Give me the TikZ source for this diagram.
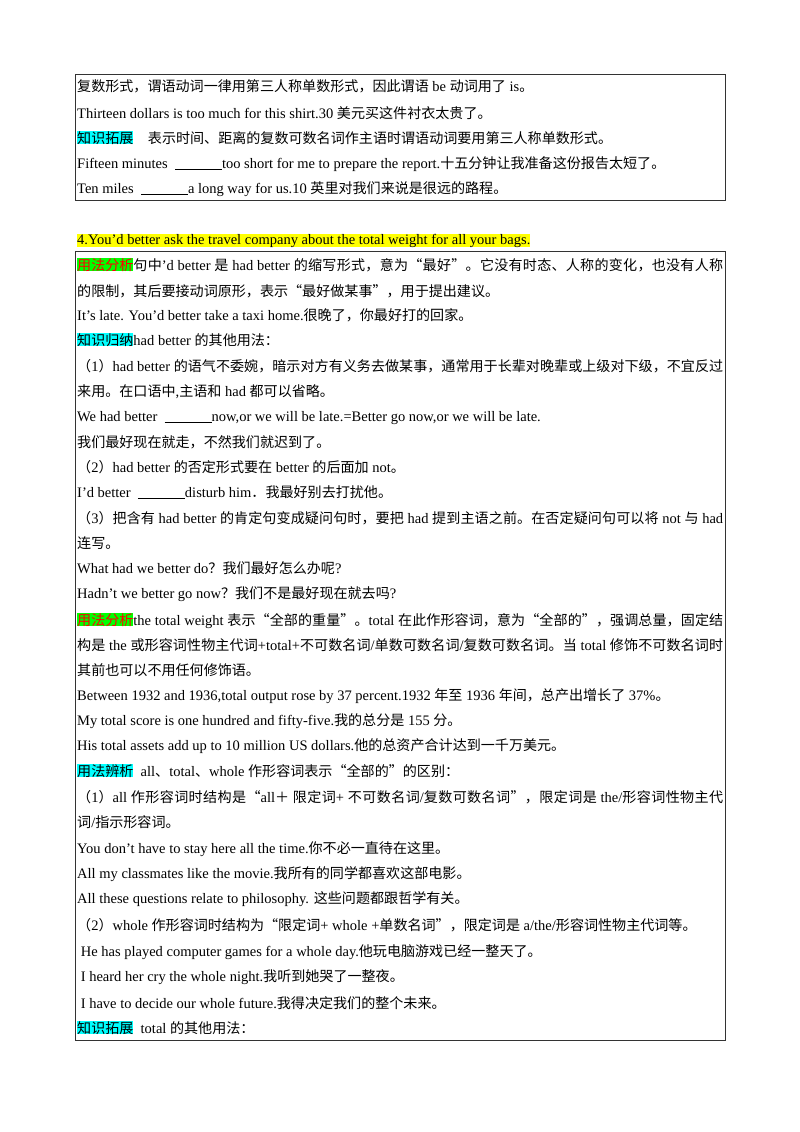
\documentclass[tikz,border=0pt]{standalone}
\usepackage{fontspec}
\setmainfont{Liberation Serif}
\newfontfamily\cjkf{Noto Sans CJK SC}[Scale=0.97]
\newfontfamily\latf{Liberation Serif}
\newXeTeXintercharclass\cjkc
\newcount\cc
\def\setrange#1#2{\cc=#1\relax\loop\XeTeXcharclass\cc=\cjkc\advance\cc by 1\relax\ifnum\cc<#2\repeat}
\setrange{"4E00}{"9FFF}
\setrange{"3000}{"3040}
\setrange{"FF00}{"FFF0}
\XeTeXcharclass"201C=\cjkc
\XeTeXcharclass"201D=\cjkc
\XeTeXinterchartoks 0 \cjkc {\cjkf}
\XeTeXinterchartoks 4095 \cjkc {\cjkf}
\XeTeXinterchartoks \cjkc 0 {\latf}
\XeTeXinterchartoks \cjkc 4095 {\latf}
\XeTeXinterchartoks \cjkc \cjkc {\hskip 0pt plus 3pt minus 0.5pt}
\XeTeXinterchartokenstate=1
\definecolor{hgreen}{RGB}{0,255,0}
\definecolor{hcyan}{RGB}{0,255,255}
\definecolor{hyellow}{RGB}{255,255,0}
\definecolor{hred}{RGB}{255,0,0}
\newcommand{\hlg}[1]{{\fboxsep=0pt\colorbox{hgreen}{\textcolor{hred}{#1}}}}
\newcommand{\hlc}[1]{{\fboxsep=0pt\colorbox{hcyan}{#1}}}
\newcommand{\bl}{\underline{\hspace{47pt}}}
\newcommand{\Ln}[2]{\node[ln] at (77,#1+5) {#2};}
\newcommand{\Fl}[2]{\node[ln] at (77,#1+5) {\makebox[646pt][s]{#2}};}
\begin{document}
\begin{tikzpicture}[x=1pt,y=-1pt,
  ln/.style={anchor=base west,inner sep=0pt,font=\fontsize{14.5}{16}\selectfont},
  box/.style={draw=black!80,line width=1pt}]
\useasboundingbox (0,0) rectangle (800,1132);
\draw[box] (75,74) rectangle (725,200);
\draw[box] (75,251) rectangle (725,1040);
\Ln{87}{复数形式，谓语动词一律用第三人称单数形式，因此谓语 be 动词用了 is。}
\Ln{113}{Thirteen dollars is too much for this shirt.30 美元买这件衬衣太贵了。}
\Ln{138}{\hlc{知识拓展}\quad 表示时间、距离的复数可数名词作主语时谓语动词要用第三人称单数形式。}
\Ln{163}{Fifteen minutes \ \bl too short for me to prepare the report.十五分钟让我准备这份报告太短了。}
\Ln{188}{Ten miles \ \bl a long way for us.10 英里对我们来说是很远的路程。}
\Ln{239}{{\fboxsep=0pt\colorbox{hyellow}{4.You’d better ask the travel company about the total weight for all your bags.}}}
\Fl{265}{\hlg{用法分析}句中’d better 是 had better 的缩写形式，意为“最好”。它没有时态、人称的变化，也没有人称}
\Ln{291}{的限制，其后要接动词原形，表示“最好做某事”，用于提出建议。}
\Ln{315}{It’s late. You'd better take a taxi home.很晚了，你最好打的回家。}
\Ln{340}{\hlc{知识归纳}had better 的其他用法：}
\Fl{366}{（1）had better 的语气不委婉，暗示对方有义务去做某事，通常用于长辈对晚辈或上级对下级，不宜反过}
\Ln{391}{来用。在口语中,主语和 had 都可以省略。}
\Ln{416}{We had better \ \bl now,or we will be late.=Better go now,or we will be late.}
\Ln{442}{我们最好现在就走，不然我们就迟到了。}
\Ln{467}{（2）had better 的否定形式要在 better 的后面加 not。}
\Ln{492}{I’d better \ \bl disturb him．我最好别去打扰他。}
\Fl{518}{（3）把含有 had better 的肯定句变成疑问句时，要把 had 提到主语之前。在否定疑问句可以将 not 与 had}
\Ln{543}{连写。}
\Ln{568}{What had we better do？我们最好怎么办呢?}
\Ln{593}{Hadn’t we better go now？我们不是最好现在就去吗?}
\Fl{620}{\hlg{用法分析}the total weight 表示“全部的重量”。total 在此作形容词，意为“全部的”，强调总量，固定结}
\Fl{645}{构是 the 或形容词性物主代词+total+不可数名词/单数可数名词/复数可数名词。当 total 修饰不可数名词时}
\Ln{670}{其前也可以不用任何修饰语。}
\Ln{695}{Between 1932 and 1936,total output rose by 37 percent.1932 年至 1936 年间，总产出增长了 37\%。}
\Ln{720}{My total score is one hundred and fifty-five.我的总分是 155 分。}
\Ln{745}{His total assets add up to 10 million US dollars.他的总资产合计达到一千万美元。}
\Ln{771}{\hlc{用法辨析}\ \ all、total、whole 作形容词表示“全部的”的区别：}
\Fl{797}{（1）all 作形容词时结构是“all＋ 限定词+ 不可数名词/复数可数名词”，限定词是 the/形容词性物主代}
\Ln{822}{词/指示形容词。}
\Ln{848}{You don’t have to stay here all the time.你不必一直待在这里。}
\Ln{873}{All my classmates like the movie.我所有的同学都喜欢这部电影。}
\Ln{898}{All these questions relate to philosophy. 这些问题都跟哲学有关。}
\Ln{925}{（2）whole 作形容词时结构为“限定词+ whole +单数名词”，限定词是 a/the/形容词性物主代词等。}
\Ln{951}{\ He has played computer games for a whole day.他玩电脑游戏已经一整天了。}
\Ln{976}{\ I heard her cry the whole night.我听到她哭了一整夜。}
\Ln{1003}{\ I have to decide our whole future.我得决定我们的整个未来。}
\Ln{1028}{\hlc{知识拓展}\ \ total 的其他用法：}
\end{tikzpicture}
\end{document}
